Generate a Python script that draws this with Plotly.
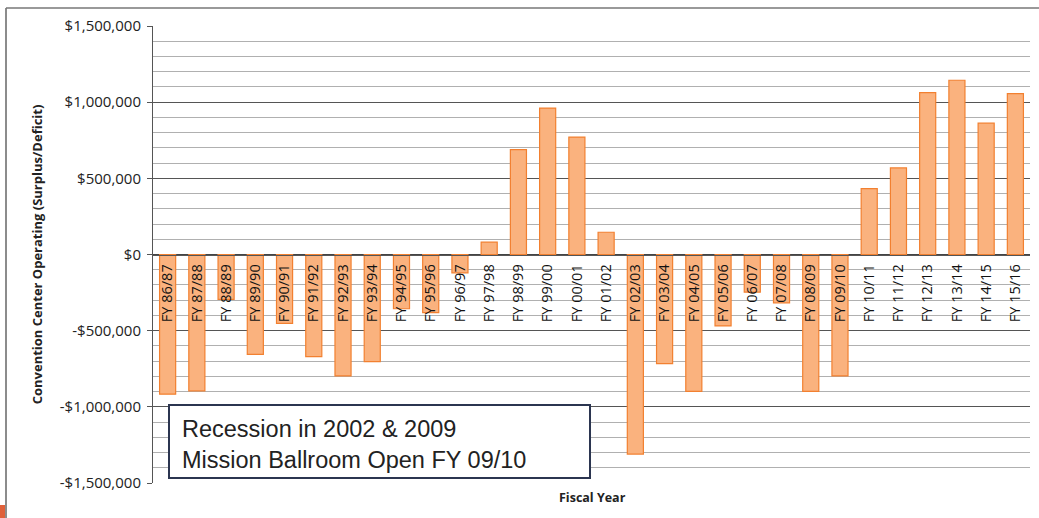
import plotly.graph_objects as go

categories = ["FY 86/87", "FY 87/88", "FY 88/89", "FY 89/90", "FY 90/91", "FY 91/92",
              "FY 92/93", "FY 93/94", "FY 94/95", "FY 95/96", "FY 96/97", "FY 97/98",
              "FY 98/99", "FY 99/00", "FY 00/01", "FY 01/02", "FY 02/03", "FY 03/04",
              "FY 04/05", "FY 05/06", "FY 06/07", "FY 07/08", "FY 08/09", "FY 09/10",
              "FY 10/11", "FY 11/12", "FY 12/13", "FY 13/14", "FY 14/15", "FY 15/16"]
values = [-917000, -895000, -295000, -655000, -452000, -670000,
          -797000, -703000, -356000, -382000, -120000, 81000,
          688000, 961000, 771000, 146000, -1310000, -716000,
          -899000, -469000, -247000, -317000, -899000, -797000,
          432000, 568000, 1063000, 1144000, 862000, 1056000]
y_tick_vals = [-1500000, -1000000, -500000, 0, 500000, 1000000, 1500000]
y_tick_text = ["-$1,500,000", "-$1,000,000", "-$500,000", "$0", "$500,000", "$1,000,000", "$1,500,000"]

W, H = 1039, 518
L, R, T, B = 153, 9, 26, 35
pw, ph = W - L - R, H - T - B

def px(x):
    return (x - L) / pw

def py(y):
    return (H - B - y) / ph

fig = go.Figure()
fig.add_trace(go.Bar(
    x=categories, y=values,
    marker=dict(color="#FAB27E", line=dict(color="#F28030", width=1.2)),
    width=0.55,
))

fig.update_layout(
    width=W, height=H,
    margin=dict(l=L, r=R, t=T, b=B),
    paper_bgcolor="white", plot_bgcolor="white",
    showlegend=False,
    bargap=0.45,
    font=dict(family="Open Sans", color="#222"),
    xaxis=dict(
        type="category",
        anchor="free", position=0.5,
        showline=True, linecolor="#555", linewidth=1,
        showgrid=False,
        tickangle=-90,
        tickfont=dict(family="Open Sans", size=14.5, color="#111"),
        ticks="", ticklabelstandoff=3,
        range=[-0.5, 29.5],
        zeroline=False,
    ),
    yaxis=dict(
        range=[-1500000, 1500000],
        tickvals=y_tick_vals, ticktext=y_tick_text,
        tickfont=dict(family="Open Sans", size=15, color="#222"),
        ticklabelstandoff=3,
        showgrid=True, gridcolor="#555", gridwidth=1,
        minor=dict(dtick=100000, tick0=0, showgrid=True, gridcolor="#b0b0b0", gridwidth=1),
        showline=True, linecolor="#555", linewidth=1,
        ticks="outside", ticklen=5, tickcolor="#555",
        zeroline=True, zerolinecolor="#444", zerolinewidth=1,
        title=dict(text="<b>Convention Center Operating (Surplus/Deficit)</b>",
                   font=dict(family="Open Sans", size=13, color="#222"), standoff=14),
    ),
)

# Chart-area frame lines (left and top)
fig.add_shape(type="line", xref="paper", yref="paper",
              x0=px(6), x1=px(6), y0=py(8), y1=py(518), line=dict(color="#666", width=1.5))
fig.add_shape(type="line", xref="paper", yref="paper",
              x0=px(6), x1=px(1039), y0=py(8), y1=py(8), line=dict(color="#777", width=1.5))
fig.add_shape(type="rect", xref="paper", yref="paper",
              x0=px(0), x1=px(5), y0=py(518), y1=py(505), line=dict(width=0), fillcolor="#E0603A")

# Note box
fig.add_shape(type="rect", xref="paper", yref="paper",
              x0=px(169), x1=px(590), y0=py(478), y1=py(405),
              line=dict(color="#2B3550", width=2), fillcolor="white", layer="above")
fig.add_annotation(xref="paper", yref="paper", x=px(180), y=py(444),
                   xanchor="left", yanchor="middle", align="left", showarrow=False,
                   text="Recession in 2002 &amp; 2009<br>Mission Ballroom Open FY 09/10",
                   font=dict(family="Liberation Sans", size=23.5, color="#222"))

fig.add_annotation(xref="paper", yref="paper", x=px(592), y=py(497),
                   xanchor="center", yanchor="middle", showarrow=False,
                   text="<b>Fiscal Year</b>",
                   font=dict(family="Open Sans", size=12.5, color="#222"))

fig.write_html("out.html")
